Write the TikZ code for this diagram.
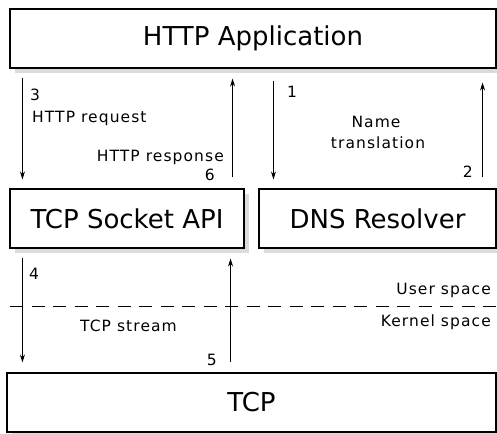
\documentclass[tikz,border=0pt]{standalone}
\usepackage{fontspec}
\setmainfont{DejaVu Sans}
\newfontfamily\smallfont[LetterSpace=7]{DejaVu Sans}
\usetikzlibrary{shadows,arrows.meta}

\begin{document}
\begin{tikzpicture}
		[x=1pt,y=-1pt,
		box/.style ={rectangle, draw=black, line width=1.1pt, fill=white, minimum height=59pt, inner sep=0pt, font=\fontsize{26}{30}\selectfont, drop shadow={shadow xshift=5pt, shadow yshift=-5pt, fill=black!14, opacity=1}},
		line/.style ={draw, line width=0.9pt, -{Stealth[length=8pt,width=5pt]}},
		lbl/.style ={inner sep=0pt, font=\smallfont\fontsize{15.5}{18}\selectfont},
		split/.style ={draw, line width=1pt, dash pattern=on 13pt off 8.5pt},
		]
		\useasboundingbox (0,0) rectangle (497,433);

		\draw (253,38.5) node[box, minimum width=486pt] (app) {HTTP Application};
		\draw (127,218.5) node[box, minimum width=234pt] (sock) {TCP Socket API};
		\draw (377.5,218.5) node[box, minimum width=237pt] (dns) {DNS Resolver};
		\draw (251.5,402.5) node[box, minimum width=489pt] (tcp) {TCP};

		\draw[line, shorten <=9pt, shorten >=9pt] ([xshift=13pt]app.south west) -- ([xshift=13pt]sock.north west);
		\draw[line, shorten <=11pt, shorten >=10pt] ([xshift=-12pt]sock.north east) -- ([xshift=-12pt]sock.north east |- app.south);
		\draw[line, shorten <=12pt, shorten >=9pt] ([xshift=15pt]dns.north west |- app.south) -- ([xshift=15pt]dns.north west);
		\draw[line, shorten <=11pt, shorten >=14pt] ([xshift=-14pt]dns.north east) -- ([xshift=-14pt]dns.north east |- app.south);
		\draw[line, shorten <=9pt, shorten >=10pt] ([xshift=13pt]sock.south west) -- ([xshift=13pt]sock.south west |- tcp.north);
		\draw[line, shorten <=10pt, shorten >=10pt] ([xshift=-14pt]sock.south east |- tcp.north) -- ([xshift=-14pt]sock.south east);

		\coordinate (ul) at (10,306);
		\coordinate (ur) at (496,306);
		\draw[split] (ul) -- (ur);

		\draw (30,100) node[lbl, anchor=base west] (n3) {3};
		\draw (32,122) node[lbl, anchor=base west] (req) {HTTP request};
		\draw (224,161) node[lbl, anchor=base east] (resp) {HTTP response};
		\draw (215,180) node[lbl, anchor=base east] (n6) {6};
		\draw (287,97) node[lbl, anchor=base west] (n1) {1};
		\draw (376,127) node[lbl, anchor=base] (name) {Name};
		\draw (378,148) node[lbl, anchor=base] (trans) {translation};
		\draw (473,177) node[lbl, anchor=base east] (n2) {2};
		\draw (29,279) node[lbl, anchor=base west] (n4) {4};
		\draw (217,365) node[lbl, anchor=base east] (n5) {5};
		\draw (128.5,331.5) node[lbl, anchor=base] (stream) {TCP stream};
		\draw (491,294) node[lbl, anchor=base east] (user) {User space};
		\draw (491,326) node[lbl, anchor=base east] (kern) {Kernel space};
	\end{tikzpicture}
\end{document}
